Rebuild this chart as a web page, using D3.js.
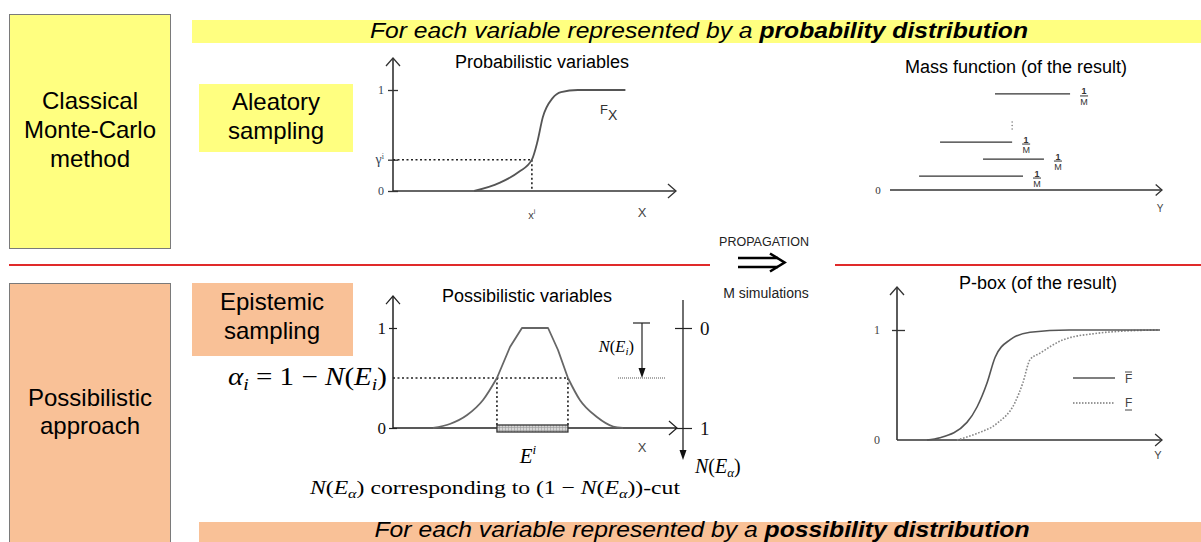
<!DOCTYPE html>
<html><head><meta charset="utf-8">
<script src="https://cdn.jsdelivr.net/npm/d3@7"></script>
<style>body{margin:0;background:#fff}svg{display:block}</style>
</head><body>
<svg id="c" width="1201" height="542"></svg>
<script>
// ---------------- data ----------------
const rowLabels = [["Classical", "Monte-Carlo", "method"], ["Possibilistic", "approach"]];
const samplingLabels = [["Aleatory", "sampling"], ["Epistemic", "sampling"]];
const bannerTop = ["For each variable represented by a ", "probability distribution"];
const bannerBottom = ["For each variable represented by a ", "possibility distribution"];
const panelTitles = ["Probabilistic variables", "Mass function (of the result)", "Possibilistic variables", "P-box (of the result)"];

// probabilistic CDF F_X
const cdfX = [2.9, 3.8, 4.5, 4.96, 5.15, 5.35, 5.7, 6.0, 6.6, 8.3];
const cdfY = [0, 0.08, 0.19, 0.31, 0.48, 0.73, 0.92, 0.98, 1, 1];
const sampleGamma = 0.31, sampleX = 4.96;
const probTicks = [0, sampleGamma, 1];

// mass function segments (focal intervals) and their stacking level
const massStart = [3.86, 1.84, 3.42, 1.07];
const massEnd   = [6.62, 4.49, 5.66, 4.89];
const massLevel = [5.65, 2.82, 1.82, 0.82];

// possibility distribution: lower tails (smooth) and upper part (straight sides, flat core)
const tailLeftX  = [1.41, 2.0, 2.61, 3.17, 3.66];
const tailLeftY  = [0, 0.04, 0.13, 0.28, 0.5];
const coreX      = [3.66, 4.12, 4.54, 5.46, 5.81, 6.16];
const coreY      = [0.5, 0.81, 1, 1, 0.78, 0.5];
const tailRightX = [6.16, 6.58, 7.18, 7.75, 8.1];
const tailRightY = [0.5, 0.28, 0.11, 0.015, 0];
const alphaCut = 0.5;
const cutInterval = [3.66, 6.16];
const nTicks = [0, 1];

// p-box bounds
const upperX = [1.13, 1.62, 2.64, 3.02, 3.40, 3.70, 4.26, 5.02, 6.5, 9.92];
const upperY = [0, 0.02, 0.16, 0.30, 0.52, 0.75, 0.91, 0.98, 1, 1];
const lowerX = [2.26, 3.02, 3.77, 4.45, 4.75, 5.02, 5.40, 6.26, 7.55, 8.53, 9.92];
const lowerY = [0, 0.06, 0.15, 0.34, 0.52, 0.73, 0.79, 0.91, 0.97, 0.99, 1];
const pboxTicks = [0, 1];

// ---------------- drawing ----------------
const svg = d3.select("#c");
const YEL = "#ffff80", ORG = "#f9c197", RED = "#e02a2a";
const SANS = "'Liberation Sans', Arial, sans-serif";
const SERIF = "'Liberation Serif', 'Times New Roman', serif";
const AX = "#333";

function rect(x, y, w, h, fill, stroke) {
  const r = svg.append("rect").attr("x", x).attr("y", y).attr("width", w).attr("height", h).attr("fill", fill);
  if (stroke) r.attr("stroke", stroke).attr("stroke-width", 1);
  return r;
}
function lines(arr, cx, y0, dy, size) {
  arr.forEach((t, i) => svg.append("text").attr("x", cx).attr("y", y0 + i * dy)
    .attr("text-anchor", "middle").attr("font-family", SANS).attr("font-size", size).attr("fill", "#000").text(t));
}
function line(x1, y1, x2, y2, stroke, w, dash) {
  const l = svg.append("line").attr("x1", x1).attr("y1", y1).attr("x2", x2).attr("y2", y2)
    .attr("stroke", stroke).attr("stroke-width", w || 1);
  if (dash) l.attr("stroke-dasharray", dash);
  return l;
}
function chevron(x, y, dir, s, stroke, w) {
  const p = dir === "up" ? `M${x - s},${y + s * 1.15}L${x},${y}L${x + s},${y + s * 1.15}`
                         : `M${x - s * 1.15},${y - s}L${x},${y}L${x - s * 1.15},${y + s}`;
  svg.append("path").attr("d", p).attr("fill", "none").attr("stroke", stroke || AX).attr("stroke-width", w || 1.3);
}
function banner(parts, cx, y, len) {
  const t = svg.append("text").attr("x", cx).attr("y", y).attr("text-anchor", "middle")
    .attr("font-family", SANS).attr("font-size", 22).attr("font-style", "italic")
    .attr("textLength", len).attr("lengthAdjust", "spacingAndGlyphs");
  t.append("tspan").text(parts[0]);
  t.append("tspan").attr("font-weight", "bold").text(parts[1]);
}

// background boxes
rect(9.5, 14.5, 161, 234, YEL, "#7a7a7a");
rect(9.5, 283.5, 161, 280, ORG, "#7a7a7a");
rect(192, 20, 1009, 23, YEL);
rect(199, 522, 1002, 22, ORG);
rect(199, 84, 154, 68, YEL);
rect(192, 283, 161, 73, ORG);

lines(rowLabels[0], 90, 109, 29, 24);
lines(rowLabels[1], 90, 406, 28, 24);
lines(samplingLabels[0], 276, 110, 29, 24);
lines(samplingLabels[1], 272, 310, 29, 24);

banner(bannerTop, 699, 38, 658);
banner(bannerBottom, 702, 537, 655);

// red separator
line(9, 265, 710, 265, RED, 2);
line(835, 265, 1201, 265, RED, 2);

// propagation arrow
svg.append("text").attr("x", 764).attr("y", 246).attr("text-anchor", "middle").attr("font-family", SANS)
  .attr("font-size", 12.5).attr("fill", "#222").text("PROPAGATION");
svg.append("text").attr("x", 766).attr("y", 298).attr("text-anchor", "middle").attr("font-family", SANS)
  .attr("font-size", 14).attr("fill", "#222").text("M simulations");
line(738, 258, 778, 258, "#000", 2.6);
line(738, 267, 778, 267, "#000", 2.6);
svg.append("path").attr("d", "M770,253.5L784.5,262.5L770,271.5").attr("fill", "none").attr("stroke", "#000").attr("stroke-width", 2.6);

// ---------- Panel 1: probabilistic ----------
{
  const x = d3.scaleLinear().domain([0, 10]).range([393, 673]);
  const y = d3.scaleLinear().domain([0, 1]).range([191, 90]);
  svg.append("text").attr("x", 542).attr("y", 68).attr("text-anchor", "middle").attr("font-family", SANS)
    .attr("font-size", 18).text(panelTitles[0]);
  line(x(0), y(0), x(0), 58, AX, 1.6);
  chevron(x(0), 58, "up", 7);
  line(x(0), y(0), 676, y(0), AX, 1.6);
  chevron(676, y(0), "right", 7);
  const g = svg.append("g").attr("transform", `translate(${x(0)},0)`)
    .call(d3.axisLeft(y).tickValues(probTicks).tickSize(5).tickFormat(d => d === sampleGamma ? "" : d3.format("d")(d)));
  g.select(".domain").remove();
  g.selectAll(".tick line").attr("x1", -5).attr("x2", 5).attr("stroke", AX).attr("stroke-width", 1.3);
  g.selectAll(".tick text").attr("font-family", SERIF).attr("font-size", 12).attr("fill", "#345").attr("x", -9);
  const gt = g.selectAll(".tick").filter(d => d === sampleGamma).select("text");
  gt.append("tspan").attr("font-size", 14).text("γ");
  gt.append("tspan").attr("font-size", 8).attr("dy", -5).text("i");
  line(x(0), y(sampleGamma), x(sampleX), y(sampleGamma), "#222", 1.6, "2,2.5");
  line(x(sampleX), y(sampleGamma), x(sampleX), y(0), "#222", 1.6, "2,2.5");
  svg.append("path").datum(d3.zip(cdfX, cdfY))
    .attr("d", d3.line().x(d => x(d[0])).y(d => y(d[1])).curve(d3.curveMonotoneX))
    .attr("fill", "none").attr("stroke", "#555").attr("stroke-width", 1.8);
  const fx = svg.append("text").attr("x", 600).attr("y", 114).attr("font-family", SANS).attr("font-size", 13).attr("fill", "#333");
  fx.append("tspan").text("F");
  fx.append("tspan").attr("dy", 6).attr("font-size", 14).text("X");
  const xi = svg.append("text").attr("x", x(sampleX)).attr("y", 219).attr("text-anchor", "middle")
    .attr("font-family", SANS).attr("font-size", 11).attr("fill", "#444");
  xi.append("tspan").text("x");
  xi.append("tspan").attr("dy", -5).attr("font-size", 7).text("i");
  svg.append("text").attr("x", 642).attr("y", 217).attr("text-anchor", "middle").attr("font-family", SANS)
    .attr("font-size", 13).attr("fill", "#444").text("X");
}

// ---------- Panel 2: mass function ----------
{
  const x = d3.scaleLinear().domain([0, 10]).range([890, 1162]);
  const y = d3.scaleLinear().domain([0, 6]).range([190, 88]);
  svg.append("text").attr("x", 1016).attr("y", 73).attr("text-anchor", "middle").attr("font-family", SANS)
    .attr("font-size", 18).text(panelTitles[1]);
  line(x(0), y(0), 1162, y(0), "#333", 1.5);
  chevron(1162, y(0), "right", 5.5, "#333", 1.3);
  svg.append("text").attr("x", 878).attr("y", y(0) + 4).attr("text-anchor", "middle").attr("font-family", SERIF)
    .attr("font-size", 11).attr("fill", "#333").text("0");
  svg.append("text").attr("x", 1160).attr("y", 212).attr("text-anchor", "middle").attr("font-family", SANS)
    .attr("font-size", 10).attr("fill", "#444").text("Y");
  const segs = d3.range(massStart.length).map(i => ({ a: massStart[i], b: massEnd[i], l: massLevel[i] }));
  svg.selectAll(".seg").data(segs).join("line")
    .attr("x1", d => x(d.a)).attr("x2", d => x(d.b)).attr("y1", d => y(d.l)).attr("y2", d => y(d.l))
    .attr("stroke", "#333").attr("stroke-width", 1.2);
  segs.forEach(d => {
    const cx = x(d.b) + 14, cy = y(d.l) + 2;
    svg.append("text").attr("x", cx).attr("y", cy - 1.5).attr("text-anchor", "middle").attr("font-family", SANS)
      .attr("font-size", 9).attr("font-weight", "bold").attr("fill", "#333").text("1");
    line(cx - 4, cy, cx + 4, cy, "#333", 1);
    svg.append("text").attr("x", cx).attr("y", cy + 9).attr("text-anchor", "middle").attr("font-family", SANS)
      .attr("font-size", 9).attr("fill", "#333").text("M");
  });
  [122, 125.5, 129].forEach(yy => svg.append("circle").attr("cx", x(4.49)).attr("cy", yy).attr("r", 0.7).attr("fill", "#666"));
}

// ---------- Panel 3: possibilistic ----------
{
  const x = d3.scaleLinear().domain([0, 10]).range([393, 677]);
  const y = d3.scaleLinear().domain([0, 1]).range([428, 328]);
  const ny = d3.scaleLinear().domain([0, 1]).range([328, 428]);
  svg.append("text").attr("x", 527).attr("y", 302).attr("text-anchor", "middle").attr("font-family", SANS)
    .attr("font-size", 18).text(panelTitles[2]);
  line(x(0), y(0), x(0), 296, "#222", 1.5);
  chevron(x(0), 296, "up", 7, "#222", 1.2);
  line(x(0), y(0), 677, y(0), "#222", 1.5);
  chevron(677, y(0), "right", 7, "#222", 1.2);
  const g = svg.append("g").attr("transform", `translate(${x(0)},0)`)
    .call(d3.axisLeft(y).tickValues([0, 1]).tickFormat(d3.format("d")));
  g.select(".domain").remove();
  g.selectAll(".tick line").attr("x1", -4).attr("x2", 4).attr("stroke", "#222").attr("stroke-width", 1.2);
  g.selectAll(".tick text").attr("font-family", SERIF).attr("font-size", 17).attr("fill", "#111").attr("x", -7);
  line(x(0), y(alphaCut), x(cutInterval[1]), y(alphaCut), "#222", 1.6, "2,2.5");
  line(x(cutInterval[0]), y(alphaCut), x(cutInterval[0]), y(0) - 3, "#222", 1.6, "2,2.5");
  line(x(cutInterval[1]), y(alphaCut), x(cutInterval[1]), y(0) - 3, "#222", 1.6, "2,2.5");
  const pl = d3.line().x(d => x(d[0])).y(d => y(d[1]));
  [[tailLeftX, tailLeftY, d3.curveMonotoneX], [coreX, coreY, d3.curveLinear], [tailRightX, tailRightY, d3.curveMonotoneX]]
    .forEach(([xs, ys, cv]) => svg.append("path").datum(d3.zip(xs, ys)).attr("d", pl.curve(cv))
      .attr("fill", "none").attr("stroke", "#666").attr("stroke-width", 1.8).attr("stroke-linejoin", "round"));
  const defs = svg.append("defs");
  const pat = defs.append("pattern").attr("id", "hatch").attr("width", 3).attr("height", 3).attr("patternUnits", "userSpaceOnUse");
  pat.append("rect").attr("width", 3).attr("height", 3).attr("fill", "#d6d6d6");
  pat.append("path").attr("d", "M0,1.5H3M1.5,0V3").attr("stroke", "#9a9a9a").attr("stroke-width", 0.6);
  svg.append("rect").attr("x", x(cutInterval[0])).attr("y", y(0) - 3).attr("width", x(cutInterval[1]) - x(cutInterval[0]))
    .attr("height", 7).attr("fill", "url(#hatch)").attr("stroke", "#333").attr("stroke-width", 1.3);
  const al = svg.append("text").attr("x", 228).attr("y", 385).attr("font-family", SERIF).attr("font-size", 25)
    .attr("textLength", 159).attr("lengthAdjust", "spacingAndGlyphs");
  al.append("tspan").attr("font-style", "italic").text("α");
  al.append("tspan").attr("font-style", "italic").attr("font-size", 17).attr("dy", 5).text("i");
  al.append("tspan").attr("dy", -5).text(" = 1 − ");
  al.append("tspan").attr("font-style", "italic").text("N");
  al.append("tspan").text("(");
  al.append("tspan").attr("font-style", "italic").text("E");
  al.append("tspan").attr("font-style", "italic").attr("font-size", 17).attr("dy", 5).text("i");
  al.append("tspan").attr("dy", -5).text(")");
  const el = svg.append("text").attr("x", 528).attr("y", 463).attr("text-anchor", "middle").attr("font-family", SERIF).attr("font-size", 21);
  el.append("tspan").attr("font-style", "italic").text("E");
  el.append("tspan").attr("font-style", "italic").attr("font-size", 13).attr("dy", -9).text("i");
  svg.append("text").attr("x", 642).attr("y", 452).attr("text-anchor", "middle").attr("font-family", SANS)
    .attr("font-size", 13).attr("fill", "#444").text("X");
  const ax = 683;
  line(ax, 300, ax, 452, "#222", 1.3);
  svg.append("path").attr("d", `M${ax - 3.5},450L${ax},460L${ax + 3.5},450Z`).attr("fill", "#111");
  const ng = svg.append("g").attr("transform", `translate(${ax},0)`)
    .call(d3.axisRight(ny).tickValues(nTicks).tickFormat(d3.format("d")));
  ng.select(".domain").remove();
  ng.selectAll(".tick line").attr("x1", -8).attr("x2", 9).attr("stroke", "#222").attr("stroke-width", 1.2);
  ng.selectAll(".tick text").attr("font-family", SERIF).attr("font-size", 19).attr("fill", "#111").attr("x", 17);
  const nx = 642;
  line(nx - 9, ny(0) - 5, nx + 8, ny(0) - 5, "#222", 1.2);
  line(nx, ny(0) - 5, nx, ny(alphaCut) - 8, "#222", 1.2);
  svg.append("path").attr("d", `M${nx - 3.5},${ny(alphaCut) - 10}L${nx},${ny(alphaCut)}L${nx + 3.5},${ny(alphaCut) - 10}Z`).attr("fill", "#111");
  line(618, ny(alphaCut), 665, ny(alphaCut), "#555", 1, "1,1");
  const ne = svg.append("text").attr("x", 634).attr("y", 352).attr("text-anchor", "end").attr("font-family", SERIF).attr("font-size", 16.5);
  ne.append("tspan").attr("font-style", "italic").text("N");
  ne.append("tspan").text("(");
  ne.append("tspan").attr("font-style", "italic").text("E");
  ne.append("tspan").attr("font-style", "italic").attr("font-size", 11).attr("dy", 3).text("i");
  ne.append("tspan").attr("dy", -3).text(")");
  const na = svg.append("text").attr("x", 695).attr("y", 473).attr("font-family", SERIF).attr("font-size", 20);
  na.append("tspan").attr("font-style", "italic").text("N");
  na.append("tspan").text("(");
  na.append("tspan").attr("font-style", "italic").text("E");
  na.append("tspan").attr("font-style", "italic").attr("font-size", 13).attr("dy", 4).text("α");
  na.append("tspan").attr("dy", -4).text(")");
  const cap = svg.append("text").attr("x", 310).attr("y", 494).attr("font-family", SERIF).attr("font-size", 19)
    .attr("textLength", 370).attr("lengthAdjust", "spacingAndGlyphs");
  cap.append("tspan").attr("font-style", "italic").text("N");
  cap.append("tspan").text("(");
  cap.append("tspan").attr("font-style", "italic").text("E");
  cap.append("tspan").attr("font-style", "italic").attr("font-size", 13).attr("dy", 4).text("α");
  cap.append("tspan").attr("dy", -4).text(") corresponding to (1 − ");
  cap.append("tspan").attr("font-style", "italic").text("N");
  cap.append("tspan").text("(");
  cap.append("tspan").attr("font-style", "italic").text("E");
  cap.append("tspan").attr("font-style", "italic").attr("font-size", 13).attr("dy", 4).text("α");
  cap.append("tspan").attr("dy", -4).text("))-cut");
}

// ---------- Panel 4: p-box ----------
{
  const x = d3.scaleLinear().domain([0, 10]).range([897, 1162]);
  const y = d3.scaleLinear().domain([0, 1]).range([440, 330]);
  svg.append("text").attr("x", 1038).attr("y", 289).attr("text-anchor", "middle").attr("font-family", SANS)
    .attr("font-size", 18).text(panelTitles[3]);
  line(x(0), y(0), x(0), 287, AX, 1.6);
  chevron(x(0), 287, "up", 7);
  line(x(0), y(0), 1162, y(0), AX, 1.6);
  chevron(1162, y(0), "right", 6);
  const g = svg.append("g").attr("transform", `translate(${x(0)},0)`)
    .call(d3.axisLeft(y).tickValues(pboxTicks).tickFormat(d3.format("d")));
  g.select(".domain").remove();
  g.selectAll(".tick line").attr("x1", -5).attr("x2", 8).attr("stroke", AX).attr("stroke-width", 1.3);
  g.selectAll(".tick text").attr("font-family", SERIF).attr("font-size", 12).attr("fill", "#444").attr("x", -17);
  g.selectAll(".tick").filter(d => d === 0).select("line").remove();
  const lg = d3.line().x(d => x(d[0])).y(d => y(d[1])).curve(d3.curveMonotoneX);
  svg.append("path").datum(d3.zip(lowerX, lowerY)).attr("d", lg).attr("fill", "none")
    .attr("stroke", "#888").attr("stroke-width", 1.6).attr("stroke-dasharray", "1.6,1.6");
  svg.append("path").datum(d3.zip(upperX, upperY)).attr("d", lg).attr("fill", "none")
    .attr("stroke", "#555").attr("stroke-width", 1.6);
  line(1073, 378, 1115, 378, "#555", 1.4);
  line(1073, 403, 1115, 403, "#777", 1.4, "1.5,1.5");
  svg.append("text").attr("x", 1125).attr("y", 383).attr("font-family", SANS).attr("font-size", 12).attr("fill", "#444").text("F");
  line(1125, 372, 1132, 372, "#444", 1);
  svg.append("text").attr("x", 1125).attr("y", 407).attr("font-family", SANS).attr("font-size", 12).attr("fill", "#444").text("F");
  line(1125, 410, 1132, 410, "#444", 1);
  svg.append("text").attr("x", 1158).attr("y", 459).attr("text-anchor", "middle").attr("font-family", SANS)
    .attr("font-size", 11).attr("fill", "#444").text("Y");
}
</script>
</body></html>
